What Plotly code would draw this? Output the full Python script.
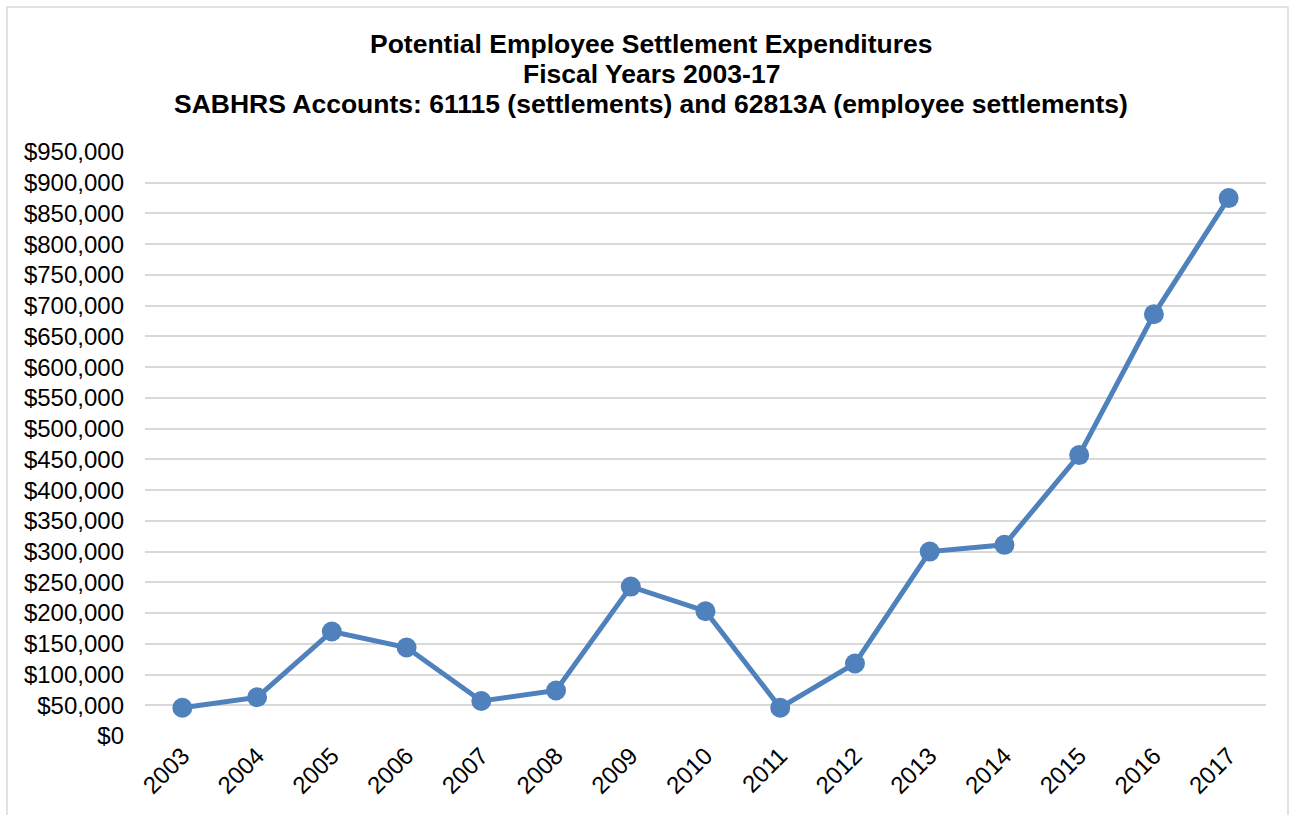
import plotly.graph_objects as go

years = ["2003", "2004", "2005", "2006", "2007", "2008", "2009", "2010",
         "2011", "2012", "2013", "2014", "2015", "2016", "2017"]
expenditures = [46000, 63000, 170000, 144000, 57000, 74000, 243000, 203000,
                46000, 118000, 300000, 311000, 457000, 686000, 875000]
tick_values = list(range(0, 950001, 50000))
tick_labels = ["$0"] + [f"${v:,}" for v in tick_values[1:]]
title_lines = [
    "Potential Employee Settlement Expenditures",
    "Fiscal Years 2003-17",
    "SABHRS Accounts: 61115 (settlements) and 62813A (employee settlements)",
]

W, H = 1295, 815
L, R, T, B = 145, 29, 152, 79
pw, ph = W - L - R, H - T - B

def px(x):
    return (x - L) / pw

def py(y):
    return (H - B - y) / ph

fig = go.Figure()
fig.add_trace(go.Scatter(
    x=list(range(len(years))), y=expenditures, mode="lines+markers",
    line=dict(color="#4F81BD", width=5),
    marker=dict(color="#4F81BD", size=20),
    showlegend=False, hoverinfo="skip",
))

annotations = []
for t, yy in zip(title_lines, [44, 74, 104]):
    annotations.append(dict(
        text=f"<b>{t}</b>", x=px(651), y=py(yy), xref="paper", yref="paper",
        showarrow=False, xanchor="center", yanchor="middle",
        font=dict(family="Liberation Sans, Arial", size=26.5, color="black"),
    ))

fig.update_layout(
    width=W, height=H,
    margin=dict(l=L, r=R, t=T, b=B),
    paper_bgcolor="white", plot_bgcolor="white",
    font=dict(family="Liberation Sans, Arial", color="black"),
    annotations=annotations,
    shapes=[dict(type="rect", xref="paper", yref="paper",
                 x0=px(7), x1=px(1288), y0=py(830), y1=py(7),
                 line=dict(color="#D9D9D9", width=1.5), layer="below")],
    xaxis=dict(
        range=[-0.5, len(years) - 0.5],
        tickmode="array", tickvals=list(range(len(years))), ticktext=years,
        tickangle=-45, tickfont=dict(size=24),
        showgrid=False, zeroline=False, showline=False, ticks="",
    ),
    yaxis=dict(
        range=[0, 950000], tickmode="array", tickvals=tick_values,
        ticktext=tick_labels, tickfont=dict(size=24),
        showgrid=True, gridcolor="#D9D9D9", gridwidth=2,
        zeroline=False, showline=False, ticks="", ticklabelstandoff=20,
    ),
)

fig.write_html("out.html")
